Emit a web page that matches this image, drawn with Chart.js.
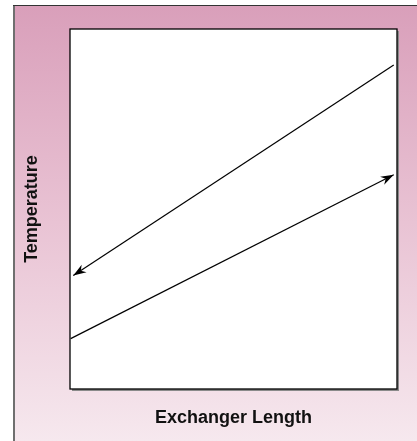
<!DOCTYPE html>
<html>
<head>
<meta charset="utf-8">
<script src="https://cdn.jsdelivr.net/npm/chart.js@4.4.1/dist/chart.umd.min.js"></script>
<style>
  html, body { margin: 0; padding: 0; background: #ffffff; }
  #wrap { width: 417px; height: 441px; }
</style>
</head>
<body>
<div id="wrap"><canvas id="hxChart" width="417" height="441"></canvas></div>
<script>
// position along the exchanger (0..100, no ticks shown)
const hotPos = [1, 99];
const coldPos = [0.2, 99];
// hot stream enters at the right and leaves at the left
const hotTemp = [31.5, 90];
// cold stream enters at the left and leaves at the right
const coldTemp = [14, 59.5];

const hotPoints = hotPos.map((x, i) => ({ x: x, y: hotTemp[i] }));
const coldPoints = coldPos.map((x, i) => ({ x: x, y: coldTemp[i] }));

const panelPlugin = {
  id: "panel",
  beforeDraw(chart) {
    const ctx = chart.ctx;
    const w = chart.width;
    const h = chart.height;
    ctx.save();
    const grad = ctx.createLinearGradient(0, 5, 0, h);
    grad.addColorStop(0, "#d99fba");
    grad.addColorStop(0.5, "#e9c3d4");
    grad.addColorStop(1, "#f6e8ee");
    ctx.fillStyle = grad;
    ctx.fillRect(13, 5, w - 13, h - 5);
    // panel edges
    ctx.strokeStyle = "#6f6f6f";
    ctx.lineWidth = 2;
    ctx.beginPath();
    ctx.moveTo(14, h);
    ctx.lineTo(14, 5);
    ctx.stroke();
    ctx.strokeStyle = "#333333";
    ctx.lineWidth = 1;
    ctx.beginPath();
    ctx.moveTo(13, 5.5);
    ctx.lineTo(w, 5.5);
    ctx.stroke();
    // plot area
    const a = chart.chartArea;
    ctx.fillStyle = "#8a8a8a";
    ctx.fillRect(a.left + 2, a.top + 2, a.right - a.left, a.bottom - a.top);
    ctx.fillStyle = "#ffffff";
    ctx.fillRect(a.left, a.top, a.right - a.left, a.bottom - a.top);
    ctx.strokeStyle = "#000000";
    ctx.lineWidth = 1.3;
    ctx.strokeRect(a.left, a.top, a.right - a.left, a.bottom - a.top);
    ctx.restore();
  },
};

// arrow heads at the outlet end of each stream
const arrowPlugin = {
  id: "arrows",
  afterDatasetsDraw(chart) {
    const ctx = chart.ctx;
    chart.data.datasets.forEach((ds, i) => {
      const pts = chart.getDatasetMeta(i).data;
      const from = ds.arrowAt === 0 ? pts[1] : pts[0];
      const tip = ds.arrowAt === 0 ? pts[0] : pts[1];
      const ang = Math.atan2(tip.y - from.y, tip.x - from.x);
      const len = 13;
      const half = 4.5;
      ctx.save();
      ctx.translate(tip.x, tip.y);
      ctx.rotate(ang);
      ctx.fillStyle = "#000000";
      ctx.beginPath();
      ctx.moveTo(0, 0);
      ctx.lineTo(-len, -half);
      ctx.lineTo(-len + 4, 0);
      ctx.lineTo(-len, half);
      ctx.closePath();
      ctx.fill();
      ctx.restore();
    });
  },
};

const titleFont = { family: "'Liberation Sans', Arial, Helvetica, sans-serif", size: 18, weight: "bold" };

new Chart(document.getElementById("hxChart"), {
  type: "line",
  data: {
    datasets: [
      {
        label: "Hot stream",
        data: hotPoints,
        borderColor: "#000000",
        borderWidth: 1.2,
        pointRadius: 0,
        arrowAt: 0,
      },
      {
        label: "Cold stream",
        data: coldPoints,
        borderColor: "#000000",
        borderWidth: 1.2,
        pointRadius: 0,
        arrowAt: 1,
      },
    ],
  },
  options: {
    responsive: false,
    animation: false,
    layout: { padding: { top: 29, right: 20, left: 0, bottom: 0 } },
    plugins: {
      legend: { display: false },
      tooltip: { enabled: false },
    },
    scales: {
      x: {
        type: "linear",
        min: 0,
        max: 100,
        grid: { display: false },
        border: { display: false },
        ticks: { display: false },
        title: {
          display: true,
          text: "Exchanger Length",
          color: "#111111",
          font: titleFont,
          padding: { top: 0, bottom: 12 },
        },
        afterFit(scale) {
          scale.height = 52;
        },
      },
      y: {
        type: "linear",
        min: 0,
        max: 100,
        grid: { display: false },
        border: { display: false },
        ticks: { display: false },
        title: {
          display: true,
          text: "Temperature",
          color: "#111111",
          font: titleFont,
          padding: { top: 21, bottom: 0 },
        },
        afterFit(scale) {
          scale.width = 70;
        },
      },
    },
  },
  plugins: [panelPlugin, arrowPlugin],
});
</script>
</body>
</html>
